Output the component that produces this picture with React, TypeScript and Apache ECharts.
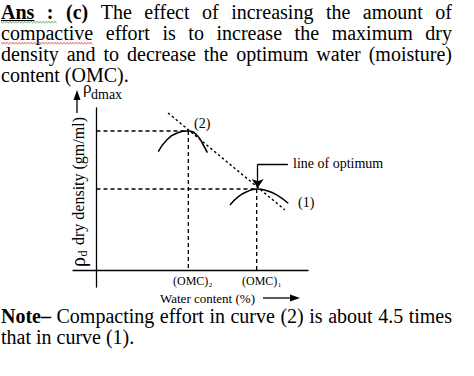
import React, { useEffect, useRef } from 'react';
import * as echarts from 'echarts';

// ---- Data (schematic compaction curves) ----
// Curve (2): higher compactive effort
const curve2Water = [6.57, 7.47, 8.53, 9.77, 10.66, 11.36, 11.79];
const curve2Density = [6.94, 7.62, 8.02, 8.15, 7.92, 7.33, 6.88];
// Curve (1): lower compactive effort
const curve1Water = [14.2, 15.09, 15.98, 17.04, 18.11, 19.17, 20.4];
const curve1Density = [3.81, 4.3, 4.59, 4.75, 4.65, 4.4, 3.91];
// Optimum points [curve (1), curve (2)]
const omcValues = [17.04, 9.77];
const rhoMaxValues = [4.75, 8.15];
// Line of optimum end points
const optimumLineWater = [7.61, 20.05];
const optimumLineDensity = [9.21, 3.52];
// Callout arrow for "line of optimum"
const calloutWater = [20.36, 17.15, 17.15];
const calloutDensity = [6.2, 6.2, 4.8];

// ---- Texts ----
const introLines: { t: string; b?: boolean }[][] = [
  [{ t: 'Ans', b: true }, { t: ':', b: true }, { t: '(c)', b: true }, { t: 'The' }, { t: 'effect' }, { t: 'of' }, { t: 'increasing' }, { t: 'the' }, { t: 'amount' }, { t: 'of' }],
  'compactive effort is to increase the maximum dry'.split(' ').map((t) => ({ t })),
  'density and to decrease the optimum water (moisture)'.split(' ').map((t) => ({ t })),
  'content (OMC).'.split(' ').map((t) => ({ t })),
];
const noteLines: { t: string; b?: boolean }[][] = [
  [{ t: 'Note–', b: true }, ...'Compacting effort in curve (2) is about 4.5 times'.split(' ').map((t) => ({ t }))],
  'that in curve (1).'.split(' ').map((t) => ({ t })),
];
const curveLabels = ['(1)', '(2)'];
const omcLabel = '(OMC)';
const omcSubs = ['1', '2'];
const xAxisTitle = 'Water content (%)';
const yAxisTitle = 'dry density (gm/ml)';
const calloutText = 'line of optimum';

const SERIF = '"Liberation Serif", "Times New Roman", serif';

function txt(x: number, y: number, text: string, font: string, align = 'left', extra: any = {}) {
  return {
    type: 'text',
    x,
    y,
    ...extra,
    style: { text, font, fill: '#000', align, verticalAlign: 'middle', textAlign: align, textVerticalAlign: 'middle' },
  };
}

export default function App() {
  const ref = useRef<HTMLDivElement>(null);
  useEffect(() => {
    if (!ref.current) return;
    const chart = echarts.init(ref.current, null, { renderer: 'svg' });
    const ctx = document.createElement('canvas').getContext('2d')!;
    const measure = (s: string, font: string) => {
      ctx.font = font;
      return ctx.measureText(s).width;
    };

    const graphics: any[] = [];
    const layoutLine = (words: { t: string; b?: boolean }[], x0: number, x1: number, y: number, size: number, justify: boolean) => {
      const fonts = words.map((w) => `${w.b ? 'bold ' : ''}${size}px ${SERIF}`);
      const widths = words.map((w, i) => measure(w.t, fonts[i]));
      const total = widths.reduce((a, b) => a + b, 0);
      const gap = justify && words.length > 1 ? (x1 - x0 - total) / (words.length - 1) : measure(' ', fonts[0]);
      let x = x0;
      const pos: number[][] = [];
      words.forEach((w, i) => {
        graphics.push(txt(x, y, w.t, fonts[i]));
        pos.push([x, x + widths[i]]);
        x += widths[i] + gap;
      });
      return pos;
    };
    const wave = (x0: number, x1: number, y: number, color: string) => {
      const pts: number[][] = [];
      let k = 0;
      for (let x = x0; x <= x1; x += 1.5, k++) pts.push([x, k % 2 ? y + 1.3 : y]);
      graphics.push({ type: 'polyline', shape: { points: pts }, style: { stroke: color, lineWidth: 0.9, fill: null } });
    };

    const baseY = [11.8, 32.8, 53.8, 74.8];
    const p0 = layoutLine(introLines[0], 1, 452, baseY[0], 20, true);
    layoutLine(introLines[1], 1, 452, baseY[1], 20, true);
    layoutLine(introLines[2], 1, 452, baseY[2], 20, true);
    layoutLine(introLines[3], 1, 452, baseY[3], 20, false);
    // underline under "Ans"
    graphics.push({ type: 'line', shape: { x1: p0[0][0], y1: 20.5, x2: p0[0][1], y2: 20.5 }, style: { stroke: '#000', lineWidth: 1 } });
    wave(p0[0][0], p0[1][1] + 4, 21.5, '#3c9a3c');
    wave(1, 93, 42.5, '#d23c3c');

    layoutLine(noteLines[0], 1, 452, 316.3, 20, true);
    layoutLine(noteLines[1], 1, 452, 337.3, 20, false);

    const lblFont = `14px ${SERIF}`;
    graphics.push(txt(194, 123, curveLabels[1], lblFont));
    graphics.push(txt(298, 202, curveLabels[0], lblFont));
    graphics.push(txt(293, 163, calloutText, lblFont));

    // OMC labels
    const omcFont = `12px ${SERIF}`;
    const omcW = measure(omcLabel, omcFont);
    [[242, omcSubs[0]], [173, omcSubs[1]]].forEach(([x, s]) => {
      graphics.push(txt(x as number, 281, omcLabel, omcFont));
      graphics.push(txt((x as number) + omcW + 0.5, 285, s as string, `7px ${SERIF}`));
    });

    // x-axis title and arrow
    graphics.push(txt(160, 298, xAxisTitle, `13px ${SERIF}`));
    graphics.push({ type: 'line', shape: { x1: 263, y1: 298, x2: 293, y2: 298 }, style: { stroke: '#000', lineWidth: 1.3 } });
    graphics.push({ type: 'polygon', shape: { points: [[300, 298], [290, 294.5], [290, 301.5]] }, style: { fill: '#000' } });

    // y-axis title (rotated)
    const rhoFont = `20px ${SERIF}`;
    const subFont = `12px ${SERIF}`;
    const yFont = `16px ${SERIF}`;
    const wr = measure('ρ', rhoFont);
    const wd = measure('d', subFont);
    graphics.push({
      type: 'group',
      x: 78,
      y: 267,
      rotation: Math.PI / 2,
      children: [
        txt(0, 0, 'ρ', rhoFont),
        txt(wr + 0.5, 4.5, 'd', subFont),
        txt(wr + wd + 6, 0, yAxisTitle, yFont),
      ],
    });
    graphics.push({ type: 'line', shape: { x1: 77, y1: 113, x2: 77, y2: 97 }, style: { stroke: '#000', lineWidth: 1.3 } });
    graphics.push({ type: 'polygon', shape: { points: [[77, 90], [73.5, 100], [80.5, 100]] }, style: { fill: '#000' } });
    // rho dmax
    graphics.push(txt(83, 87, 'ρ', `17px ${SERIF}`));
    graphics.push(txt(91, 94, 'dmax', `14px ${SERIF}`));

    const black = '#000';
    const guideSeries = omcValues.flatMap((w, i) => [
      {
        type: 'line', symbol: 'none', silent: true, z: 1,
        data: [[0, rhoMaxValues[i]], [w, rhoMaxValues[i]]],
        lineStyle: { color: black, width: 1.3, type: [4, 3] },
      },
      {
        type: 'line', symbol: 'none', silent: true, z: 1,
        data: [[w, rhoMaxValues[i]], [w, 0]],
        lineStyle: { color: black, width: 1.3, type: [4, 3] },
      },
    ]);

    chart.setOption({
      animation: false,
      grid: { left: 73, right: 166, top: 108, bottom: 89 },
      xAxis: {
        type: 'value', min: -2.5, max: 22.5,
        axisLine: { show: true, onZero: true, lineStyle: { color: black, width: 1.3 } },
        axisTick: { show: false }, axisLabel: { show: false }, splitLine: { show: false },
      },
      yAxis: {
        type: 'value', min: -1, max: 9.5,
        axisLine: { show: true, onZero: true, lineStyle: { color: black, width: 1.3 } },
        axisTick: { show: false }, axisLabel: { show: false }, splitLine: { show: false },
      },
      series: [
        ...guideSeries,
        {
          type: 'line', symbol: 'none', smooth: 0.5, z: 3,
          data: curve2Water.map((w, i) => [w, curve2Density[i]]),
          lineStyle: { color: black, width: 1.5 },
        },
        {
          type: 'line', symbol: 'none', smooth: 0.5, z: 3,
          data: curve1Water.map((w, i) => [w, curve1Density[i]]),
          lineStyle: { color: black, width: 1.5 },
        },
        {
          type: 'line', symbol: 'none', z: 2,
          data: optimumLineWater.map((w, i) => [w, optimumLineDensity[i]]),
          lineStyle: { color: black, width: 1.4, type: [2.5, 2.5] },
        },
        {
          type: 'lines', coordinateSystem: 'cartesian2d', z: 4,
          symbol: 'none',
          data: [{ coords: [[calloutWater[0], calloutDensity[0]], [calloutWater[1], calloutDensity[1]]] }],
          lineStyle: { color: black, width: 1.3, opacity: 1 },
        },
        {
          type: 'lines', coordinateSystem: 'cartesian2d', z: 4,
          symbol: ['none', 'arrow'], symbolSize: 9,
          data: [{ coords: [[calloutWater[1], calloutDensity[1]], [calloutWater[2], calloutDensity[2]]] }],
          lineStyle: { color: black, width: 1.3, opacity: 1 },
        },
      ],
      graphic: graphics,
    });
    return () => chart.dispose();
  }, []);
  return <div ref={ref} style={{ position: 'fixed', left: 0, top: 0, width: 474, height: 376, background: '#fff' }} />;
}
